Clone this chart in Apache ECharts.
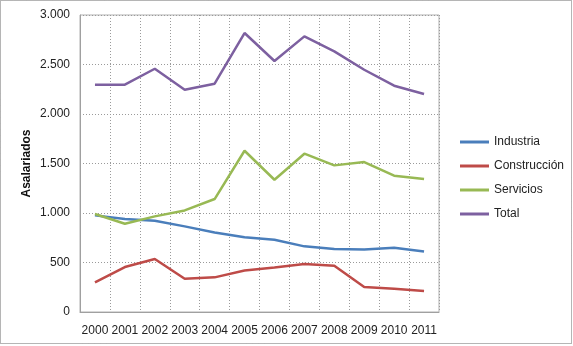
<!DOCTYPE html>
<html>
<head>
<meta charset="utf-8">
<script src="https://cdn.jsdelivr.net/npm/echarts@6/dist/echarts.min.js"></script>
<style>
  html, body { margin: 0; padding: 0; background: #fff; }
  #chart { width: 573px; height: 346px; }
</style>
</head>
<body>
<div id="chart"></div>
<script>
// Years on the category axis
const years = ['2000','2001','2002','2003','2004','2005','2006','2007','2008','2009','2010','2011'];

// Wage earners by sector (thousands)
const industria    = [976, 939, 922, 865, 804, 754, 730, 663, 636, 632, 649, 612];
const construccion = [299, 454, 535, 336, 350, 420, 450, 485, 468, 252, 235, 212];
const servicios    = [990, 892, 966, 1026, 1141, 1629, 1336, 1599, 1481, 1515, 1377, 1343];
const total        = [2296, 2296, 2457, 2245, 2306, 2818, 2535, 2784, 2632, 2447, 2286, 2202];

const seriesNames = ['Industria', 'Construcción', 'Servicios', 'Total'];
const seriesData = [industria, construccion, servicios, total];
const seriesColors = ['#4a7ebb', '#be4b48', '#98b954', '#7d60a0'];

const font = 'Liberation Sans, Arial, sans-serif';

function thousands(v) {
  return String(v).replace(/\B(?=(\d{3})+(?!\d))/g, '.');
}

const chart = echarts.init(document.getElementById('chart'), null, { renderer: 'canvas' });

chart.setOption({
  animation: false,
  backgroundColor: '#ffffff',
  textStyle: { fontFamily: font },
  graphic: [{
    type: 'rect',
    shape: { x: 0.5, y: 0.5, width: 571, height: 343 },
    style: { fill: 'none', stroke: '#6a6a6a', lineWidth: 1, lineDash: [1, 1] },
    silent: true
  }],
  grid: {
    left: 80, top: 15, width: 359, height: 297,
    show: true, borderColor: '#b0b0b0', borderWidth: 1
  },
  legend: {
    orient: 'vertical',
    left: 455, top: 131,
    itemWidth: 29, itemHeight: 3, itemGap: 12,
    icon: 'rect',
    textStyle: { fontFamily: font, fontSize: 12, color: '#222' },
    data: seriesNames
  },
  xAxis: {
    type: 'category',
    data: years,
    boundaryGap: true,
    axisLine: { lineStyle: { color: '#a0a0a0' } },
    axisTick: { show: false },
    axisLabel: { fontFamily: font, fontSize: 12, color: '#222', margin: 13, interval: 0 },
    splitLine: { show: true, interval: 0, lineStyle: { color: '#9a9a9a', type: [1, 2] } }
  },
  yAxis: {
    type: 'value',
    min: 0, max: 3000, interval: 500,
    name: 'Asalariados',
    nameLocation: 'middle',
    nameGap: 47,
    nameMoveOverlap: false,
    nameTextStyle: { fontFamily: font, fontSize: 12, fontWeight: 'bold', color: '#111' },
    axisLine: { show: true, lineStyle: { color: '#a0a0a0' } },
    axisTick: { show: false },
    axisLabel: { fontFamily: font, fontSize: 12, color: '#222', margin: 10, formatter: thousands },
    splitLine: { show: true, lineStyle: { color: '#9a9a9a', type: [1, 2] } }
  },
  series: seriesNames.map((name, i) => ({
    name: name,
    type: 'line',
    data: seriesData[i],
    symbol: 'none',
    color: seriesColors[i],
    lineStyle: { width: 2.5, color: seriesColors[i] }
  }))
});
</script>
</body>
</html>
